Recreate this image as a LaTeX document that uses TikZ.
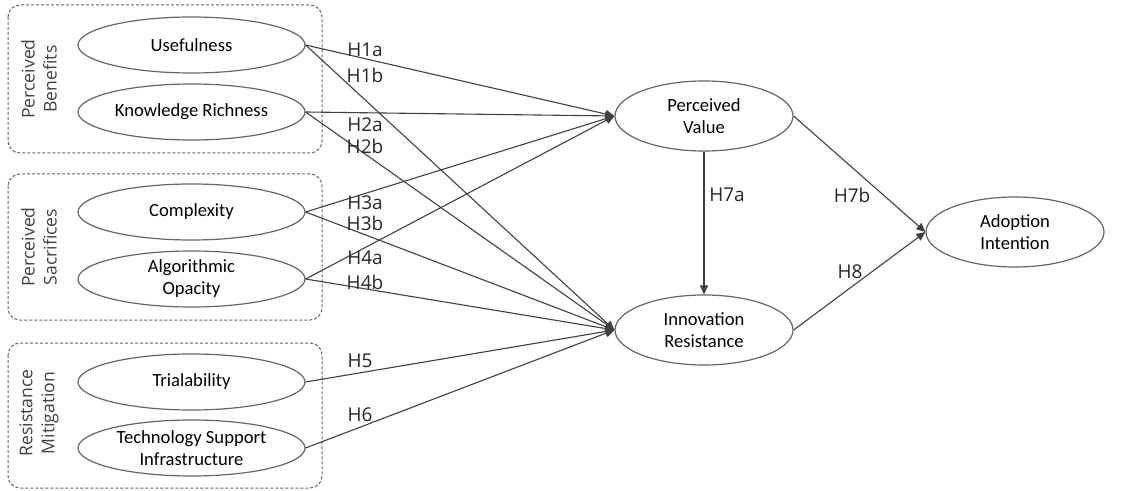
\documentclass[tikz,border=0pt]{standalone}
\usepackage{fontspec}
\setmainfont{Carlito}
\newfontfamily\hypfont{Open Sans}
\usetikzlibrary{shapes.geometric,arrows.meta}

\begin{document}
\begin{tikzpicture}[x=0.5pt,y=-0.5pt,
	construct/.style={ellipse,draw=black!60,line width=0.6pt,minimum width=113.5pt,minimum height=28pt,inner sep=0pt,align=center,font=\fontsize{9.3}{11}\selectfont},
	outcome/.style={construct,minimum width=89pt,minimum height=35pt},
	groupbox/.style={draw=black!60,dash pattern=on 1.5pt off 1pt,rounded corners=6pt,line width=0.5pt},
	grouplabel/.style={rotate=90,align=center,text=black!75,font=\hypfont\fontsize{8.8}{11}\selectfont},
	hyp/.style={text=black!85,font=\hypfont\fontsize{9.5}{11}\selectfont},
	link/.style={draw=black!75,line width=0.55pt,-{Triangle[length=4.5pt,width=4pt]}}]
	\useasboundingbox (0,0) rectangle (1122,491);
	\draw[groupbox] (8,5) rectangle (322,153);
	\draw[groupbox] (8,174) rectangle (322,320);
	\draw[groupbox] (8,343) rectangle (322,488);
	\node[grouplabel] (benefits) at (39,79) {Perceived\\Benefits};
	\node[grouplabel] (sacrifices) at (39,247) {Perceived\\Sacrifices};
	\node[grouplabel] (mitigation) at (39,413) {Resistance\\Mitigation};
	\node[construct] (use) at (191.5,45) {Usefulness};
	\node[construct] (kr) at (191.5,112) {Knowledge Richness};
	\node[construct] (cx) at (191.5,212) {Complexity};
	\node[construct] (ao) at (191.5,279) {Algorithmic\\Opacity};
	\node[construct] (tr) at (191.5,382) {Trialability};
	\node[construct] (ts) at (191.5,448) {Technology Support\\Infrastructure};
	\node[outcome] (pv) at (704,116) {Perceived\\Value};
	\node[outcome] (ir) at (704,330) {Innovation\\Resistance};
	\node[outcome] (ai) at (1015,232) {Adoption\\Intention};
	\draw[link] (use.east) -- (pv.west);
	\draw[link] (use.east) -- (ir.west);
	\draw[link] (kr.east) -- (pv.west);
	\draw[link] (kr.east) -- (ir.west);
	\draw[link] (cx.east) -- (pv.west);
	\draw[link] (cx.east) -- (ir.west);
	\draw[link] (ao.east) -- (pv.west);
	\draw[link] (ao.east) -- (ir.west);
	\draw[link] (tr.east) -- (ir.west);
	\draw[link] (ts.east) -- (ir.west);
	\draw[link] (pv.south) -- (ir.north);
	\draw[link] (pv.east) -- (ai.west);
	\draw[link] (ir.east) -- (ai.west);
	\node[hyp] (h1a) at (365,50) {H1a};
	\node[hyp] (h1b) at (365,75) {H1b};
	\node[hyp] (h2a) at (365,125) {H2a};
	\node[hyp] (h2b) at (365,146) {H2b};
	\node[hyp] (h3a) at (365,203) {H3a};
	\node[hyp] (h3b) at (365,223) {H3b};
	\node[hyp] (h4a) at (365,258) {H4a};
	\node[hyp] (h4b) at (365,282) {H4b};
	\node[hyp] (h5) at (360,361) {H5};
	\node[hyp] (h6) at (360,415) {H6};
	\node[hyp] (h7a) at (727,195) {H7a};
	\node[hyp] (h7b) at (852,195) {H7b};
	\node[hyp] (h8) at (850,272) {H8};
\end{tikzpicture}
\end{document}
